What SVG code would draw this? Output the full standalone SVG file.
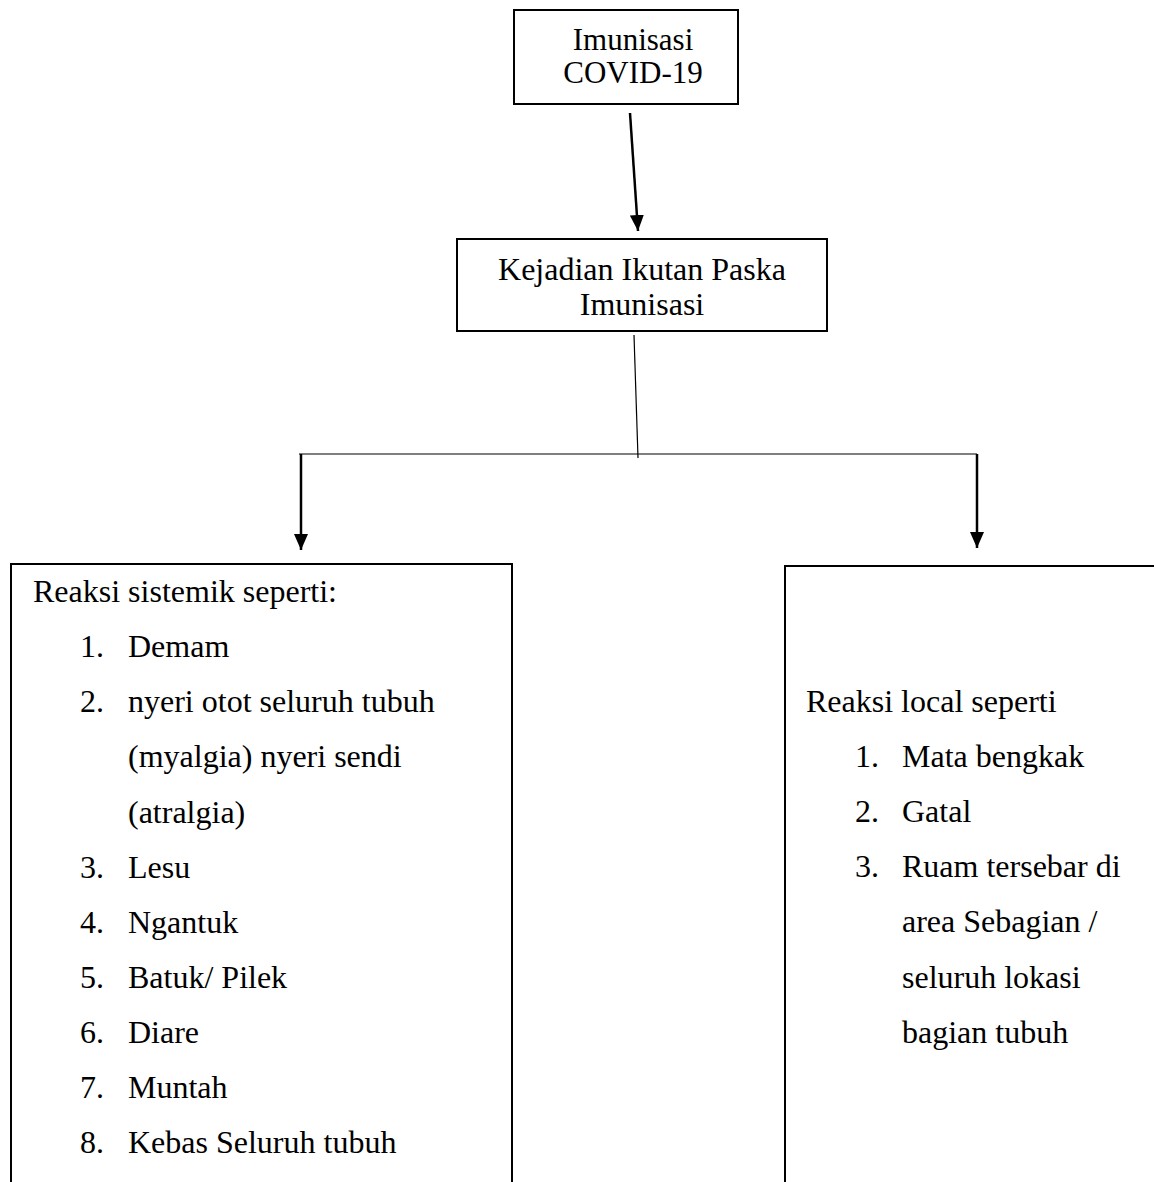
<svg xmlns="http://www.w3.org/2000/svg" width="1154" height="1182" viewBox="0 0 1154 1182">
  <style>
    .box { fill: #ffffff; stroke: #000000; stroke-width: 2; }
    .t { font-family: "Liberation Serif", "Times New Roman", serif; font-size: 32px; fill: #000000; }
    .s { font-size: 31px; }
    .c { text-anchor: middle; }
    .thick { stroke: #000000; stroke-width: 2.5; fill: none; }
    .thin { stroke: #000000; stroke-width: 1.2; fill: none; }
  </style>
  <defs>
    <marker id="arrow" viewBox="0 0 16 14" refX="16" refY="7" markerWidth="16" markerHeight="14" markerUnits="userSpaceOnUse" orient="auto">
      <path d="M0,0 L16,7 L0,14 z" fill="#000000"/>
    </marker>
  </defs>
  <rect width="1154" height="1182" fill="#ffffff"/>

  <g id="node-imunisasi">
    <rect class="box" x="514" y="10" width="224" height="94"/>
    <text class="t s c" x="633" y="50">Imunisasi</text>
    <text class="t s c" x="633" y="83">COVID-19</text>
  </g>

  <g id="node-kipi">
    <rect class="box" x="457" y="239" width="370" height="92"/>
    <text class="t c" x="642" y="280">Kejadian Ikutan Paska</text>
    <text class="t c" x="642" y="315">Imunisasi</text>
  </g>

  <g id="node-sistemik">
    <rect class="box" x="11" y="564" width="501" height="640"/>
    <text class="t" x="33" y="602">Reaksi sistemik seperti:</text>
    <text class="t" x="80" y="657">1.</text><text class="t" x="128" y="657">Demam</text>
    <text class="t" x="80" y="712">2.</text><text class="t" x="128" y="712">nyeri otot seluruh tubuh</text>
    <text class="t" x="128" y="767">(myalgia) nyeri sendi</text>
    <text class="t" x="128" y="823">(atralgia)</text>
    <text class="t" x="80" y="878">3.</text><text class="t" x="128" y="878">Lesu</text>
    <text class="t" x="80" y="933">4.</text><text class="t" x="128" y="933">Ngantuk</text>
    <text class="t" x="80" y="988">5.</text><text class="t" x="128" y="988">Batuk/ Pilek</text>
    <text class="t" x="80" y="1043">6.</text><text class="t" x="128" y="1043">Diare</text>
    <text class="t" x="80" y="1098">7.</text><text class="t" x="128" y="1098">Muntah</text>
    <text class="t" x="80" y="1153">8.</text><text class="t" x="128" y="1153">Kebas Seluruh tubuh</text>
  </g>

  <g id="node-local">
    <rect class="box" x="785" y="566" width="400" height="640"/>
    <text class="t" x="806" y="712">Reaksi local seperti</text>
    <text class="t" x="855" y="767">1.</text><text class="t" x="902" y="767">Mata bengkak</text>
    <text class="t" x="855" y="822">2.</text><text class="t" x="902" y="822">Gatal</text>
    <text class="t" x="855" y="877">3.</text><text class="t" x="902" y="877">Ruam tersebar di</text>
    <text class="t" x="902" y="932">area Sebagian /</text>
    <text class="t" x="902" y="988">seluruh lokasi</text>
    <text class="t" x="902" y="1043">bagian tubuh</text>
  </g>

  <g id="connectors">
    <line class="thick" x1="630" y1="113" x2="638" y2="231" marker-end="url(#arrow)"/>
    <line class="thin" x1="634" y1="335" x2="638" y2="458"/>
    <line class="thin" x1="299" y1="454" x2="977" y2="454"/>
    <line class="thick" x1="301" y1="454" x2="301" y2="550" marker-end="url(#arrow)"/>
    <line class="thick" x1="977" y1="454" x2="977" y2="548" marker-end="url(#arrow)"/>
  </g>
</svg>
